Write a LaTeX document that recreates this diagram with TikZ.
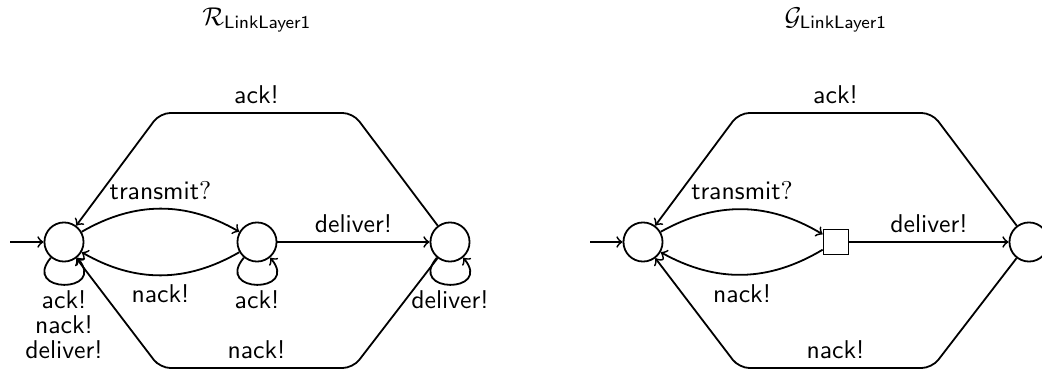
\documentclass[tikz,border=0pt]{standalone}
\usetikzlibrary{arrows}
\begin{document}
\begin{tikzpicture}[x=0.389pt,y=0.389pt,
  state/.style={circle,draw,line width=0.7pt,minimum size=15.2pt,inner sep=0pt},
  accst/.style={rectangle,draw,line width=0.7pt,minimum size=9.7pt,inner sep=0pt},
  trans/.style={->,line width=0.7pt},
  every node/.style={font=\sffamily},
  lp/.style={loop,out=230,in=310,looseness=4.6,min distance=5mm}
]
\useasboundingbox (0,0) rectangle (1042,376);
\clip (0,0) rectangle (1042,376);

% ---------- left automaton ----------
\node (t1) at (257,356) {$\mathcal{R}_{\mathsf{LinkLayer1}}$};
\node[state] (L0) at (64,134) {};
\node[state] (L1) at (257,134) {};
\node[state] (L2) at (450,134) {};
\coordinate (i0) at (10,134);
\coordinate (TL) at (160,263);
\coordinate (TR) at (353,263);
\coordinate (BL) at (160,8);
\coordinate (BR) at (353,8);

\draw[trans] (i0) -- (L0);
\draw[trans] (L0) to[bend left=30] node[above] {$\mathsf{transmit}?$} (L1);
\draw[trans] (L1) to[bend left=30] node[below] {nack!} (L0);
\draw[trans] (L1) -- node[above] {deliver!} (L2);
\draw[trans,rounded corners] (L2) -- (TR) -- node[above] {ack!} (TL) -- (L0);
\draw[trans,rounded corners] (L2) -- (BR) -- node[above] {nack!} (BL) -- (L0);
\draw[trans] (L0) to[lp] node[below,inner sep=2pt,align=center] {ack!\\[-2.3pt]nack!\\[-2.3pt]deliver!} (L0);
\draw[trans] (L1) to[lp] node[below,inner sep=2pt] {ack!} (L1);
\draw[trans] (L2) to[lp] node[below,inner sep=2pt] {deliver!} (L2);

% ---------- right automaton ----------
\node (t2) at (836,356) {$\mathcal{G}_{\mathsf{LinkLayer1}}$};
\node[state] (R0) at (643,134) {};
\node[accst] (RS) at (836,134) {};
\node[state] (R2) at (1029,134) {};
\coordinate (i1) at (590,134);
\coordinate (TL2) at (739,263);
\coordinate (TR2) at (932,263);
\coordinate (BL2) at (739,8);
\coordinate (BR2) at (932,8);

\draw[trans] (i1) -- (R0);
\draw[trans] (R0) to[bend left=30] node[above] {$\mathsf{transmit}?$} (RS);
\draw[trans] (RS) to[bend left=30] node[below] {nack!} (R0);
\draw[trans] (RS) -- node[above] {deliver!} (R2);
\draw[trans,rounded corners] (R2) -- (TR2) -- node[above] {ack!} (TL2) -- (R0);
\draw[trans,rounded corners] (R2) -- (BR2) -- node[above] {nack!} (BL2) -- (R0);
\end{tikzpicture}
\end{document}
